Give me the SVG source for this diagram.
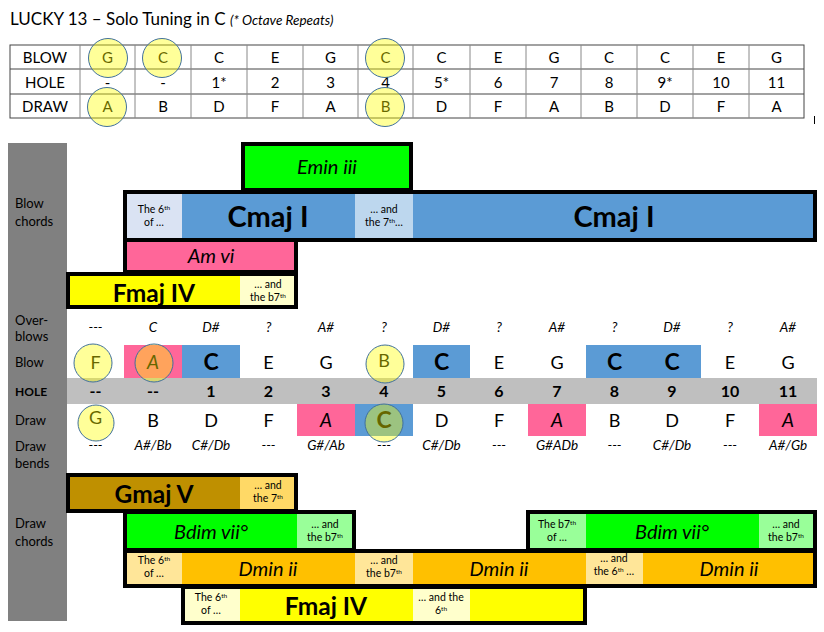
<svg xmlns="http://www.w3.org/2000/svg" width="824" height="632" viewBox="0 0 824 632">
<style>
text{font-family:Lato,"Open Sans","Liberation Sans",sans-serif;fill:#000}
.t{font-size:15px;text-anchor:middle}
.lbl{font-size:13px}
.ob{font-size:13.5px;font-style:italic;text-anchor:middle}
.n{font-size:18px;text-anchor:middle}
.nb{font-size:23px;font-weight:bold;text-anchor:middle}
.ni{font-size:19px;font-style:italic;text-anchor:middle}
.h{font-size:16px;font-weight:bold;text-anchor:middle}
.s{font-size:10.5px;text-anchor:middle}
.sup{font-size:6.5px}
.big{font-size:29px;font-weight:bold;text-anchor:middle}
.bb{font-size:24.5px;font-weight:bold;text-anchor:middle}
.it{font-size:20px;font-style:italic;text-anchor:middle}
.box{fill:none;stroke:#000;stroke-width:4}
.circ{fill:#ffff00;fill-opacity:0.4;stroke:#41719c;stroke-width:1}
.tl{stroke:#444;stroke-width:1;fill:none}
.tv{stroke:#888;stroke-width:1}
</style>

<!-- Title -->
<text x="10" y="25" style="font-size:17px">LUCKY 13 – Solo Tuning in C <tspan style="font-size:13.5px;font-style:italic">(* Octave Repeats)</tspan></text>

<!-- Top table -->
<g id="tuning-table">
<rect class="tl" x="10" y="45" width="794" height="73"/>
<line class="tl" x1="10" y1="69" x2="804" y2="69"/>
<line class="tl" x1="10" y1="94" x2="804" y2="94"/>
<g class="tv">
<line x1="80" y1="45" x2="80" y2="118"/><line x1="135" y1="45" x2="135" y2="118"/><line x1="191" y1="45" x2="191" y2="118"/><line x1="247" y1="45" x2="247" y2="118"/><line x1="303" y1="45" x2="303" y2="118"/><line x1="358" y1="45" x2="358" y2="118"/><line x1="413" y1="45" x2="413" y2="118"/><line x1="470" y1="45" x2="470" y2="118"/><line x1="526" y1="45" x2="526" y2="118"/><line x1="581" y1="45" x2="581" y2="118"/><line x1="637" y1="45" x2="637" y2="118"/><line x1="693" y1="45" x2="693" y2="118"/><line x1="749" y1="45" x2="749" y2="118"/>
</g>
<line x1="814.5" y1="116" x2="814.5" y2="124" stroke="#000" stroke-width="1"/>
<text class="t" x="45" y="63">BLOW</text>
<text class="t" x="45" y="88">HOLE</text>
<text class="t" x="45" y="112">DRAW</text>
<g class="t">
<text class="t" x="107.5" y="63">G</text><text class="t" x="163" y="63">C</text><text class="t" x="219" y="63">C</text><text class="t" x="275" y="63">E</text><text class="t" x="330.5" y="63">G</text><text class="t" x="385.5" y="63">C</text><text class="t" x="441.5" y="63">C</text><text class="t" x="498" y="63">E</text><text class="t" x="554" y="63">G</text><text class="t" x="609" y="63">C</text><text class="t" x="665" y="63">C</text><text class="t" x="721" y="63">E</text><text class="t" x="776.5" y="63">G</text>
<text class="t" x="107.5" y="88">-</text><text class="t" x="163" y="88">-</text><text class="t" x="219" y="88">1*</text><text class="t" x="275" y="88">2</text><text class="t" x="330.5" y="88">3</text><text class="t" x="385.5" y="88">4</text><text class="t" x="441.5" y="88">5*</text><text class="t" x="498" y="88">6</text><text class="t" x="554" y="88">7</text><text class="t" x="609" y="88">8</text><text class="t" x="665" y="88">9*</text><text class="t" x="721" y="88">10</text><text class="t" x="776.5" y="88">11</text>
<text class="t" x="107.5" y="112">A</text><text class="t" x="163" y="112">B</text><text class="t" x="219" y="112">D</text><text class="t" x="275" y="112">F</text><text class="t" x="330.5" y="112">A</text><text class="t" x="385.5" y="112">B</text><text class="t" x="441.5" y="112">D</text><text class="t" x="498" y="112">F</text><text class="t" x="554" y="112">A</text><text class="t" x="609" y="112">B</text><text class="t" x="665" y="112">D</text><text class="t" x="721" y="112">F</text><text class="t" x="776.5" y="112">A</text>
</g>
<circle class="circ" cx="108" cy="58" r="19.5"/>
<circle class="circ" cx="162" cy="58" r="19.5"/>
<circle class="circ" cx="385" cy="58" r="19.5"/>
<circle class="circ" cx="107" cy="107" r="19.5"/>
<circle class="circ" cx="385" cy="107" r="19.5"/>
</g>

<!-- Left label column -->
<g id="label-column">
<rect x="8" y="143" width="59" height="478" fill="#808080"/>
<text class="lbl" x="15" y="208">Blow</text>
<text class="lbl" x="15" y="226">chords</text>
<text class="lbl" x="15" y="325">Over-</text>
<text class="lbl" x="15" y="341">blows</text>
<text class="lbl" x="15" y="367">Blow</text>
<text class="lbl" x="15" y="396" style="font-weight:bold;font-size:12px">HOLE</text>
<text class="lbl" x="15" y="425">Draw</text>
<text class="lbl" x="15" y="451">Draw</text>
<text class="lbl" x="15" y="468">bends</text>
<text class="lbl" x="15" y="528">Draw</text>
<text class="lbl" x="15" y="546">chords</text>
</g>

<!-- Blow chords -->
<g id="emin">
<rect x="243" y="144" width="168" height="46" fill="#00ff00"/>
<rect class="box" x="243" y="144" width="168" height="46"/>
<text class="it" x="327" y="174">Emin iii</text>
</g>
<g id="cmaj">
<rect x="125" y="192" width="57" height="48" fill="#dae3f3"/>
<rect x="182" y="192" width="173" height="48" fill="#5b9bd5"/>
<rect x="355" y="192" width="58" height="48" fill="#bdd7ee"/>
<rect x="413" y="192" width="402" height="48" fill="#5b9bd5"/>
<rect class="box" x="125" y="192" width="690" height="48"/>
<text class="s" x="154" y="213">The 6<tspan class="sup" dy="-3">th</tspan></text>
<text class="s" x="154" y="226">of …</text>
<text class="big" x="268" y="227">Cmaj I</text>
<text class="s" x="384" y="213">… and</text>
<text class="s" x="384" y="226">the 7<tspan class="sup" dy="-3">th</tspan><tspan dy="3">…</tspan></text>
<text class="big" x="614" y="227">Cmaj I</text>
</g>
<g id="amvi">
<rect x="125" y="240" width="171" height="32" fill="#ff6699"/>
<rect class="box" x="125" y="240" width="171" height="32"/>
<text class="it" x="211" y="263">Am vi</text>
</g>
<g id="fmaj-top">
<rect x="68" y="274" width="172" height="33" fill="#ffff00"/>
<rect x="240" y="274" width="56" height="33" fill="#ffffcc"/>
<rect class="box" x="68" y="274" width="228" height="33"/>
<text class="bb" x="154" y="302">Fmaj IV</text>
<text class="s" x="268" y="288">… and</text>
<text class="s" x="268" y="301">the b7<tspan class="sup" dy="-3">th</tspan></text>
</g>

<!-- Note grid -->
<g id="grid">
<rect x="124" y="345" width="58" height="33" fill="#ff6699"/>
<rect x="182" y="345" width="58" height="33" fill="#5b9bd5"/>
<rect x="413" y="345" width="57" height="33" fill="#5b9bd5"/>
<rect x="586" y="345" width="115" height="33" fill="#5b9bd5"/>
<rect x="67" y="378" width="750" height="26" fill="#bfbfbf"/>
<rect x="297" y="404" width="58" height="32" fill="#ff6699"/>
<rect x="355" y="404" width="58" height="32" fill="#5b9bd5"/>
<rect x="528" y="404" width="58" height="32" fill="#ff6699"/>
<rect x="759" y="404" width="58" height="32" fill="#ff6699"/>

<text class="ob" x="95.5" y="332">---</text><text class="ob" x="153" y="332">C</text><text class="ob" x="211" y="332">D#</text><text class="ob" x="268.5" y="332">?</text><text class="ob" x="326" y="332">A#</text><text class="ob" x="384" y="332">?</text><text class="ob" x="441.5" y="332">D#</text><text class="ob" x="499" y="332">?</text><text class="ob" x="557" y="332">A#</text><text class="ob" x="614.5" y="332">?</text><text class="ob" x="672" y="332">D#</text><text class="ob" x="730" y="332">?</text><text class="ob" x="788" y="332">A#</text>

<text class="n" x="95.5" y="369">F</text><text class="ni" x="153" y="369">A</text><text class="nb" x="211" y="370">C</text><text class="n" x="268.5" y="369">E</text><text class="n" x="326" y="369">G</text><text class="n" x="384" y="367">B</text><text class="nb" x="441.5" y="370">C</text><text class="n" x="499" y="369">E</text><text class="n" x="557" y="369">G</text><text class="nb" x="614.5" y="370">C</text><text class="nb" x="672" y="370">C</text><text class="n" x="730" y="369">E</text><text class="n" x="788" y="369">G</text>

<text class="h" x="95.5" y="397">--</text><text class="h" x="153" y="397">--</text><text class="h" x="211" y="397">1</text><text class="h" x="268.5" y="397">2</text><text class="h" x="326" y="397">3</text><text class="h" x="384" y="397">4</text><text class="h" x="441.5" y="397">5</text><text class="h" x="499" y="397">6</text><text class="h" x="557" y="397">7</text><text class="h" x="614.5" y="397">8</text><text class="h" x="672" y="397">9</text><text class="h" x="730" y="397">10</text><text class="h" x="788" y="397">11</text>

<text class="n" x="95.5" y="424">G</text><text class="n" x="153" y="427">B</text><text class="n" x="211" y="427">D</text><text class="n" x="268.5" y="427">F</text><text class="ni" x="326" y="427">A</text><text class="nb" x="384" y="428">C</text><text class="n" x="441.5" y="427">D</text><text class="n" x="499" y="427">F</text><text class="ni" x="557" y="427">A</text><text class="n" x="614.5" y="427">B</text><text class="n" x="672" y="427">D</text><text class="n" x="730" y="427">F</text><text class="ni" x="788" y="427">A</text>

<text class="ob" x="95.5" y="450">---</text><text class="ob" x="153" y="450">A#/Bb</text><text class="ob" x="211" y="450">C#/Db</text><text class="ob" x="268.5" y="450">---</text><text class="ob" x="326" y="450">G#/Ab</text><text class="ob" x="384" y="450">---</text><text class="ob" x="441.5" y="450">C#/Db</text><text class="ob" x="499" y="450">---</text><text class="ob" x="557" y="450">G#ADb</text><text class="ob" x="614.5" y="450">---</text><text class="ob" x="672" y="450">C#/Db</text><text class="ob" x="730" y="450">---</text><text class="ob" x="788" y="450">A#/Gb</text>

<circle class="circ" cx="93" cy="363" r="19"/>
<circle class="circ" cx="154" cy="363" r="19"/>
<circle class="circ" cx="385" cy="364" r="19"/>
<circle class="circ" cx="96" cy="423" r="18"/>
<circle class="circ" cx="384" cy="423" r="19"/>
</g>

<!-- Draw chords -->
<g id="gmaj">
<rect x="68" y="475" width="172" height="36" fill="#bf9000"/>
<rect x="240" y="475" width="56" height="36" fill="#ffd966"/>
<rect class="box" x="68" y="475" width="228" height="36"/>
<text class="bb" x="154" y="503">Gmaj V</text>
<text class="s" x="268" y="489">… and</text>
<text class="s" x="268" y="502">the 7<tspan class="sup" dy="-3">th</tspan></text>
</g>
<g id="bdim-left">
<rect x="125" y="512" width="172" height="38" fill="#00ff00"/>
<rect x="297" y="512" width="57" height="38" fill="#99ff99"/>
<rect class="box" x="125" y="512" width="229" height="38"/>
<text class="it" x="211" y="539">Bdim vii°</text>
<text class="s" x="325" y="528">… and</text>
<text class="s" x="325" y="541">the b7<tspan class="sup" dy="-3">th</tspan></text>
</g>
<g id="bdim-right">
<rect x="528" y="512" width="58" height="38" fill="#99ff99"/>
<rect x="586" y="512" width="173" height="38" fill="#00ff00"/>
<rect x="759" y="512" width="56" height="38" fill="#99ff99"/>
<rect class="box" x="528" y="512" width="287" height="38"/>
<text class="s" x="557" y="528">The b7<tspan class="sup" dy="-3">th</tspan></text>
<text class="s" x="557" y="541">of …</text>
<text class="it" x="672" y="539">Bdim vii°</text>
<text class="s" x="786" y="528">… and</text>
<text class="s" x="786" y="541">the b7<tspan class="sup" dy="-3">th</tspan></text>
</g>
<g id="dmin">
<rect x="125" y="551" width="57" height="35" fill="#ffe699"/>
<rect x="182" y="551" width="173" height="35" fill="#ffc000"/>
<rect x="355" y="551" width="58" height="35" fill="#ffe699"/>
<rect x="413" y="551" width="173" height="35" fill="#ffc000"/>
<rect x="586" y="551" width="57" height="35" fill="#ffe699"/>
<rect x="643" y="551" width="172" height="35" fill="#ffc000"/>
<rect class="box" x="125" y="551" width="690" height="35"/>
<text class="s" x="154" y="564">The 6<tspan class="sup" dy="-3">th</tspan></text>
<text class="s" x="154" y="577">of …</text>
<text class="it" x="268" y="576">Dmin ii</text>
<text class="s" x="384" y="564">… and</text>
<text class="s" x="384" y="577">the b7<tspan class="sup" dy="-3">th</tspan></text>
<text class="it" x="499" y="576">Dmin ii</text>
<text class="s" x="614" y="562">… and</text>
<text class="s" x="614" y="575">the 6<tspan class="sup" dy="-3">th</tspan><tspan dy="3"> …</tspan></text>
<text class="it" x="729" y="576">Dmin ii</text>
</g>
<g id="fmaj-bottom">
<rect x="183" y="587" width="57" height="36" fill="#ffffcc"/>
<rect x="240" y="587" width="173" height="36" fill="#ffff00"/>
<rect x="413" y="587" width="57" height="36" fill="#ffffcc"/>
<rect x="470" y="587" width="115" height="36" fill="#ffff00"/>
<rect class="box" x="183" y="587" width="402" height="36"/>
<text class="s" x="211" y="601">The 6<tspan class="sup" dy="-3">th</tspan></text>
<text class="s" x="211" y="614">of …</text>
<text class="bb" x="326" y="615">Fmaj IV</text>
<text class="s" x="441" y="601">… and the</text>
<text class="s" x="441" y="614">6<tspan class="sup" dy="-3">th</tspan></text>
</g>
<g id="connectors"/>
</svg>
